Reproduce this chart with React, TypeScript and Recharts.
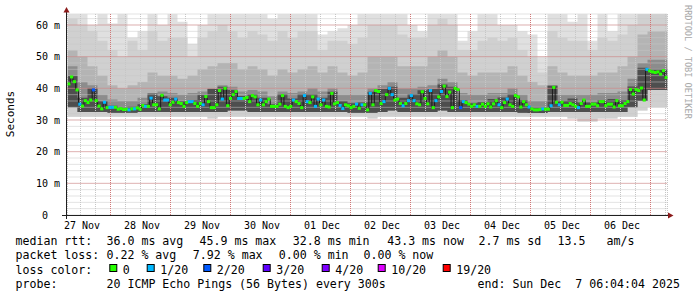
import React from 'react';
import { ComposedChart, Area, Line, XAxis, YAxis, ReferenceLine, CartesianGrid } from 'recharts';

// time axis in hours after 27 Nov 00:00; left edge of the plot is 27 Nov ~06:48
const START_H = 6.8;
const SPAN_H = 240;
const Y_TOP = 63.47;

const dayNoons = [12, 36, 60, 84, 108, 132, 156, 180, 204, 228];
const dayLabels = ['27 Nov', '28 Nov', '29 Nov', '30 Nov', '01 Dec', '02 Dec', '03 Dec', '04 Dec', '05 Dec', '06 Dec'];
const yLabelled = [0, 10, 20, 30, 40, 50, 60];

// median rtt (ms), one value per consolidated step
const median = [
  41.4, 43.6, 42.1, 39.5, 35.0, 34.4, 36.1, 35.5, 36.3, 39.5, 36.1, 34.4, 33.5, 35.6, 33.9, 34.0, 34.0, 34.0, 33.4, 33.6, 33.3, 33.4,
  33.2, 33.5, 33.5, 33.8, 33.4, 34.6, 34.3, 34.3, 36.9, 34.8, 34.8, 33.5, 37.8, 36.3, 36.3, 34.8, 35.6, 36.6, 35.5, 35.2, 34.3, 35.5,
  35.8, 35.8, 35.2, 34.3, 35.2, 34.8, 37.4, 35.8, 33.9, 33.9, 34.8, 39.3, 36.6, 40.0, 34.5, 36.8, 38.0, 39.0, 36.8, 36.8, 36.8,
  37.1, 35.8, 37.7, 37.3, 34.8, 36.3, 34.8, 35.8, 36.6, 34.3, 34.3, 34.3, 35.0, 37.7, 34.3, 33.9, 34.3, 36.3, 35.8, 35.2, 33.9,
  37.7, 35.8, 35.5, 37.3, 34.3, 36.6, 34.8, 36.3, 34.3, 34.1, 38.4, 35.1, 35.5, 34.6, 33.6, 34.8, 34.5, 33.9, 34.3, 35.0, 33.7, 34.8,
  34.8, 33.2, 38.4, 34.8, 39.3, 39.0, 35.2, 35.8, 38.0, 40.0, 38.0, 36.3, 36.6, 35.2, 34.5, 35.2, 36.1, 37.7, 36.1, 35.1, 34.8, 38.9, 36.8,
  35.1, 39.3, 33.9, 36.1, 37.3, 39.0, 40.7, 37.4, 38.8, 33.9, 40.0, 39.6, 33.9, 35.8, 35.5, 35.0, 34.3, 34.8, 34.3, 34.3, 35.0, 34.3,
  35.1, 34.1, 35.1, 36.1, 34.8, 33.9, 35.5, 36.6, 34.8, 34.3, 37.7, 37.3, 34.1, 35.8, 34.8, 34.1, 33.5, 33.2, 33.2, 33.3, 33.5, 33.4, 33.4,
  34.5, 40.3, 35.6, 34.8, 35.6, 34.6, 34.6, 35.2, 34.8, 34.3, 33.9, 35.2, 36.3, 34.3, 34.3, 35.0, 35.0, 34.5, 35.8, 35.8, 34.5, 35.0,
  35.0, 34.1, 36.1, 34.5, 34.5, 35.2, 35.8, 39.6, 38.2, 39.6, 39.3, 40.1, 36.3, 46.0, 45.5, 45.2, 45.0, 45.2, 44.5, 45.6, 43.4,
];

// loss step per median value (index into lossColors)
const loss = [
  0, 0, 0, 0, 1, 0, 0, 0, 0, 2, 0, 0, 0, 1, 0, 1, 1, 0, 0, 0, 0, 0, 1, 0, 1, 0, 0, 0, 1, 0, 1, 0, 0, 0, 0, 1, 1, 0, 0, 1, 0, 0, 0, 0,
  1, 1, 0, 0, 0, 1, 0, 0, 0, 0, 0, 0, 1, 0, 0, 0, 0, 0, 1, 1, 0, 0, 0, 0, 0, 0, 1, 0, 0, 0, 0, 0, 0, 0, 0, 0, 0, 0, 1, 0, 0, 0,
  1, 1, 0, 0, 1, 1, 0, 1, 0, 0, 0, 0, 0, 1, 1, 0, 0, 0, 0, 1, 0, 1, 0, 0, 1, 0, 0, 0, 0, 1, 0, 1, 1, 0, 0, 0, 1, 0, 1, 1, 1, 0, 0, 0, 0,
  0, 1, 0, 1, 0, 1, 0, 0, 0, 0, 0, 0, 2, 1, 0, 0, 0, 0, 1, 0, 0, 0, 0, 0, 0, 0, 1, 0, 0, 1, 0, 0, 0, 0, 0, 0, 0, 1, 0, 0, 0, 0, 1, 0, 0,
  1, 0, 0, 1, 0, 0, 0, 0, 0, 0, 1, 0, 0, 0, 0, 0, 0, 0, 0, 0, 0, 0, 0, 0, 0, 0, 0, 0, 0, 0, 0, 0, 0, 0, 0, 1, 0, 0, 0, 0, 0, 0, 0,
];

const lossColors = ['#26ff00', '#00b8ff', '#0059ff', '#5e00ff', '#7e00ff', '#dd00ff', '#ff0000'];
const lossLabels = ['0', '1/20', '2/20', '3/20', '4/20', '10/20', '19/20'];

// smoke, 60 columns of 4h: bottom, dark-band bottom, core top, dark-band top, mid top, high top, max
const smokeMin = [
  31, 31, 31, 31, 31, 31, 31, 31, 31, 31, 31, 31, 31, 31, 30.5, 31, 31, 31, 31, 31, 31, 31, 31, 31, 31, 31, 31, 31, 31, 31,
  30.5, 31, 31, 31, 31, 31, 31, 31, 31, 31, 31, 31, 31, 31, 31, 31, 31, 31, 31, 31, 30.5, 29.5, 29.5, 30.5, 30.5, 31, 31, 33, 34, 34,
];
const smokeLow = [
  34, 32.5, 32.5, 32.5, 32.3, 32.3, 32.3, 32.5, 32.5, 32.5, 32.5, 32.5, 32.5, 32.5, 32.5, 32.5, 33, 33, 32.5, 32.5, 32.5, 32.5, 32.5, 32.5,
  32.5, 32.5, 32.5, 32.5, 32.3, 32.3, 32.3, 32.5, 33, 32.5, 32.5, 32.5, 32.5, 33, 32.5, 32.5, 32.5, 32.5, 32.5, 32.5, 32.5, 32.3, 32.2, 32.2,
  32.5, 32.5, 32.5, 32.5, 32.5, 32.5, 32.5, 32.5, 34, 36, 39.5, 39.5,
];
const smokeCore = [
  44, 37, 40, 36, 34.5, 34, 34.2, 35, 38.3, 37.5, 37, 36, 36.3, 38, 39.8, 40.5, 39.5, 37.6, 38.2, 37, 35, 38.2, 36.8, 38.2,
  38.2, 37, 38.9, 36, 35.3, 35.5, 38.9, 39.8, 40.5, 37, 38.2, 39.4, 39.8, 41.2, 40.5, 36.3, 35.3, 35.6, 36.6, 37.1, 38.2, 36.3, 34, 34,
  40.8, 36.1, 36.8, 35.5, 35.5, 36.3, 36.6, 36.3, 40.6, 46.5, 46, 46,
];
const smokeDark = [
  47, 42, 41, 38, 36.5, 36, 36, 37, 38.5, 39, 38.5, 38, 38.5, 39, 40, 41, 40.5, 39, 39.5, 39, 37.5, 39, 38.5, 39,
  40, 39, 40, 38, 38, 38, 40, 41, 42, 40, 40, 40.5, 41, 43, 42, 38.5, 38, 38, 38.5, 38.5, 40, 38, 36, 36,
  41, 38, 38, 38, 38, 38.5, 38.5, 39, 43, 48, 49, 49,
];
const smokeMid = [
  52, 50, 47, 44, 41, 40, 41, 42, 45, 44, 44, 43, 44, 46, 47, 48, 48, 46, 47, 46, 44, 46, 45, 46,
  47, 45, 47, 45, 44, 45, 50, 50, 50, 47, 47, 47, 50, 52, 50, 45, 44, 45, 45, 45, 47, 44, 42, 41,
  47, 45, 44, 44, 44, 45, 45, 47, 50, 57, 58, 58,
];
const smokeHigh = [
  62, 60, 58, 55, 52, 50, 55, 52, 58, 55, 56, 56, 50, 56, 58, 60, 58, 56, 58, 57, 55, 58, 56, 58,
  58, 52, 55, 55, 54, 56, 60, 60, 60, 57, 56, 56, 60, 62, 60, 52, 52, 55, 56, 55, 56, 52, 50, 45,
  58, 56, 55, 55, 52, 56, 55, 57, 60, 63.4, 63.4, 63.4,
];
const smokeMax = [
  63.4, 63.4, 60, 63.4, 60.5, 63.4, 56, 58, 63.4, 60, 63.4, 61, 54, 60, 63.4, 63.4, 63.4, 63.4, 63.4, 63.4, 62, 63.4, 63.4, 63.4,
  63.4, 57, 58, 59, 60, 63.4, 63.4, 63.4, 63.4, 63.4, 60, 58, 63.4, 63.4, 63.4, 55, 58, 63.4, 63.4, 60, 60, 58, 57, 50,
  63.4, 63.4, 61, 63.4, 55, 63.4, 58, 63.4, 63.4, 63.4, 63.4, 63.4,
];

type Row = { t: number; [k: string]: any };

const rows: Row[] = [];
const colH = SPAN_H / smokeMin.length;
const smokeRow = (j: number, t: number): Row => ({
  t,
  b1: [smokeMin[j], smokeMax[j]],
  b2: [smokeMin[j], smokeHigh[j]],
  b3: [smokeLow[j], smokeMid[j]],
  b4: [smokeLow[j], smokeDark[j]],
  b5: [smokeLow[j], smokeCore[j]],
});
smokeMin.forEach((_, j) => rows.push(smokeRow(j, START_H + j * colH)));
rows.push(smokeRow(smokeMin.length - 1, START_H + SPAN_H));
median.forEach((m, i) =>
  rows.push({ t: START_H + ((i + 0.5) * SPAN_H) / median.length, median: m, loss: loss[i] })
);
rows.sort((a, b) => a.t - b.t);

const bands = [
  { key: 'b1', fill: '#e0e0e0' },
  { key: 'b2', fill: '#d0d0d0' },
  { key: 'b3', fill: '#b4b4b4' },
  { key: 'b4', fill: '#8c8c8c' },
  { key: 'b5', fill: '#4e4e4e' },
];

// every 2 ms and every 6 h carry a minor grid line; only some get a label
const yTicks: number[] = [];
for (let v = 0; v < Y_TOP; v += 2) yTicks.push(v);
const xTicks: number[] = [];
for (let h = 12; h < START_H + SPAN_H; h += 6) xTicks.push(h);
const majorY = [10, 20, 30, 40, 50, 60];
const majorX = xTicks.filter((h) => h % 24 === 0);

const MONO = '"DejaVu Sans Mono", monospace';
const MINOR = '#c6c6c6';
const MAJOR = 'rgba(220,40,40,0.5)';

const YTick = ({ y, payload }: any) => {
  const v = payload.value;
  if (!yLabelled.includes(v)) return <g />;
  return (
    <text x={v === 0 ? 48 : 60} y={y} dy={3.6} textAnchor="end" fontFamily={MONO} fontSize={10} fill="#000">
      {v === 0 ? '0' : `${v} m`}
    </text>
  );
};

const XTick = ({ x, payload }: any) => {
  const i = dayNoons.indexOf(payload.value);
  if (i < 0) return <g />;
  return (
    <text x={x + 1.5} y={228.5} textAnchor="middle" fontFamily={MONO} fontSize={10} fill="#000">
      {dayLabels[i]}
    </text>
  );
};

const MedianDot = (p: any) => {
  if (p.payload == null || p.payload.median == null || p.cy == null) return <g key={'d' + p.index} />;
  return (
    <rect key={'d' + p.index} x={p.cx - 1.6} y={p.cy - 1.5} width={3.2} height={3} fill={lossColors[p.payload.loss]} />
  );
};

const stats = [
  { y: 245, items: [[15.5, 'median rtt:'], [106.5, '36.0 ms avg'], [199.5, '45.9 ms max'], [292.8, '32.8 ms min'], [387.2, '43.3 ms now'], [478.5, '2.7 ms sd'], [557.5, '13.5'], [606.5, 'am/s']] },
  { y: 259.3, items: [[15.5, 'packet loss:'], [106.5, '0.22 % avg'], [192.8, '7.92 % max'], [278.8, '0.00 % min'], [363.5, '0.00 % now']] },
  { y: 287.7, items: [[15.5, 'probe:'], [106.5, '20 ICMP Echo Pings (56 Bytes) every 300s'], [477.5, 'end: Sun Dec  7 06:04:04 2025']] },
];
const lossBoxX = [109.3, 146.7, 203.3, 262.7, 321.7, 377.7, 442.7];

export default function App() {
  return (
    <div style={{ position: 'absolute', left: 0, top: 0, width: 697, height: 297, background: '#fff' }}>
      <ComposedChart width={697} height={297} data={rows} margin={{ top: 14, right: 29.5, bottom: 0, left: 0 }}>
        <CartesianGrid stroke={MINOR} strokeDasharray="1 1" zIndex={300} />
        <XAxis
          type="number"
          dataKey="t"
          domain={[START_H, START_H + SPAN_H]}
          ticks={xTicks}
          interval={0}
          tick={(p: any) => <XTick {...p} />}
          height={82}
          axisLine={false}
          tickLine={false}
          allowDataOverflow
        />
        <YAxis
          type="number"
          domain={[0, Y_TOP]}
          ticks={yTicks}
          interval={0}
          tick={(p: any) => <YTick {...p} />}
          width={67.5}
          axisLine={false}
          tickLine={false}
          allowDataOverflow
        />
        {bands.map((b) => (
          <Area
            key={b.key}
            type="stepAfter"
            dataKey={b.key}
            stroke="none"
            fill={b.fill}
            fillOpacity={1}
            connectNulls
            dot={false}
            activeDot={false}
            isAnimationActive={false}
          />
        ))}
        {majorY.map((v) => (
          <ReferenceLine key={'My' + v} y={v} stroke={MAJOR} strokeDasharray="1 1" />
        ))}
        {majorX.map((v) => (
          <ReferenceLine key={'Mx' + v} x={v} stroke={MAJOR} strokeDasharray="1 1" />
        ))}
        <Line
          type="step"
          dataKey="median"
          stroke="#1a1a1a"
          strokeWidth={1}
          connectNulls
          dot={MedianDot}
          activeDot={false}
          isAnimationActive={false}
        />
      </ComposedChart>
      <svg width={697} height={297} style={{ position: 'absolute', left: 0, top: 0, pointerEvents: 'none' }}>
        <line x1={66.5} y1={10} x2={66.5} y2={219} stroke="#202020" />
        <line x1={62} y1={215.5} x2={670} y2={215.5} stroke="#202020" />
        <polygon points="63.5,12.5 69.5,12.5 66.5,7" fill="#8b1a1a" />
        <polygon points="668,212.5 668,218.5 673.5,215.5" fill="#8b1a1a" />
        <text transform="translate(14,114) rotate(-90)" textAnchor="middle" fontFamily={MONO} fontSize={11} fill="#000">
          Seconds
        </text>
        <text transform="translate(684.5,5) rotate(90)" fontFamily={MONO} fontSize={8.6} fill="#a8a8a8">
          RRDTOOL / TOBI OETIKER
        </text>
        {stats.map((line, li) =>
          line.items.map(([x, s], k) => (
            <text key={li + '-' + k} x={x as number} y={line.y} fontFamily={MONO} fontSize={11.6} fill="#000" style={{ whiteSpace: 'pre' }}>
              {s}
            </text>
          ))
        )}
        <text x={15.5} y={273.5} fontFamily={MONO} fontSize={11.6} fill="#000">
          loss color:
        </text>
        {lossColors.map((c, i) => (
          <g key={'lc' + i}>
            <rect x={lossBoxX[i] + 0.5} y={264.5} width={7} height={7} fill={c} stroke="#000" />
            <text x={lossBoxX[i] + 13.5} y={273.5} fontFamily={MONO} fontSize={11.6} fill="#000">
              {lossLabels[i]}
            </text>
          </g>
        ))}
      </svg>
    </div>
  );
}
